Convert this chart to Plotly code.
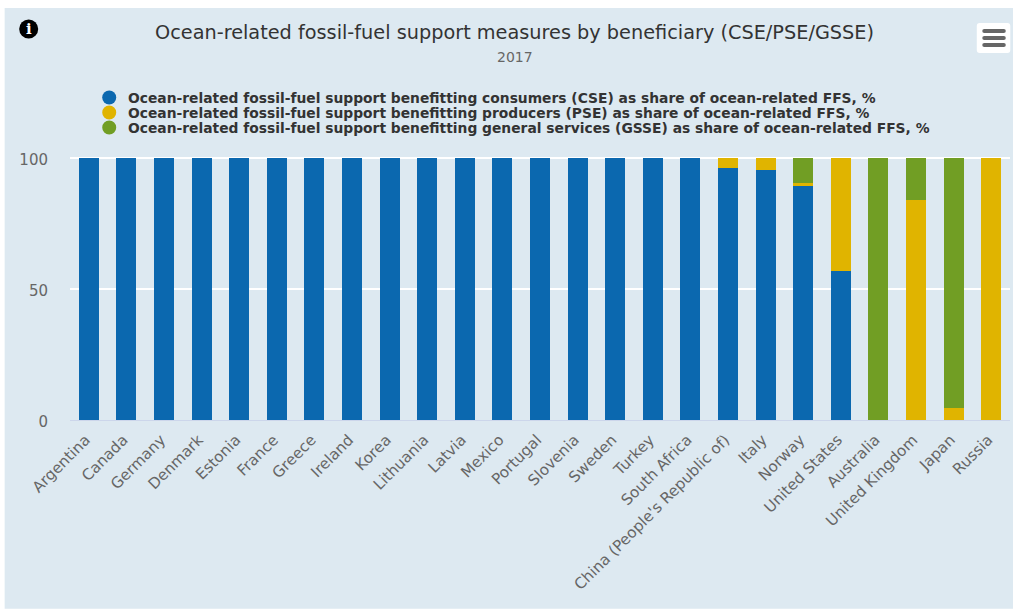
import plotly.graph_objects as go

countries = ["Argentina", "Canada", "Germany", "Denmark", "Estonia", "France", "Greece", "Ireland", "Korea",
             "Lithuania", "Latvia", "Mexico", "Portugal", "Slovenia", "Sweden", "Turkey", "South Africa",
             "China (People's Republic of)", "Italy", "Norway", "United States", "Australia", "United Kingdom",
             "Japan", "Russia"]
cse = [100] * 17 + [96.1, 95.3, 89.2, 56.8, 0, 0, 0, 0]
pse = [0] * 17 + [3.9, 4.7, 1.1, 43.2, 0, 83.9, 4.6, 100]
gsse = [0] * 17 + [0, 0, 9.7, 0, 100, 16.1, 95.4, 0]

series_names = [
    "Ocean-related fossil-fuel support benefitting consumers (CSE) as share of ocean-related FFS, %",
    "Ocean-related fossil-fuel support benefitting producers (PSE) as share of ocean-related FFS, %",
    "Ocean-related fossil-fuel support benefitting general services (GSSE) as share of ocean-related FFS, %",
]
series_colors = ["#0B68AF", "#E0B400", "#719E24"]
y_ticks = [0, 50, 100]
y_max = 100.6  # a little headroom so the 100 gridline is not dropped at the plot edge

WIDTH, HEIGHT = 1013, 609
LEFT, RIGHT, BOTTOM = 70.3, 1009.7, 420.2
PX_PER_UNIT = 2.626
TOP = BOTTOM - y_max * PX_PER_UNIT
FONT = "DejaVu Sans"
PANEL = "#DDE9F1"


def px(x):
    return (x - LEFT) / (RIGHT - LEFT)


def py(y):
    return (BOTTOM - y) / (BOTTOM - TOP)


def rounded_rect(x0, y0, x1, y1, r):
    """SVG path of a rounded rectangle, given in page pixels, in paper coordinates."""
    pts = lambda x, y: f"{px(x):.5f} {py(y):.5f}"
    return (f"M {pts(x0 + r, y0)} L {pts(x1 - r, y0)} Q {pts(x1, y0)} {pts(x1, y0 + r)} "
            f"L {pts(x1, y1 - r)} Q {pts(x1, y1)} {pts(x1 - r, y1)} L {pts(x0 + r, y1)} "
            f"Q {pts(x0, y1)} {pts(x0, y1 - r)} L {pts(x0, y0 + r)} Q {pts(x0, y0)} {pts(x0 + r, y0)} Z")


fig = go.Figure()
for name, values, color in zip(series_names, [cse, pse, gsse], series_colors):
    fig.add_trace(go.Bar(x=countries, y=values, name=name, marker=dict(color=color, line=dict(width=0))))

shapes = [
    # page panel behind the chart
    dict(type="rect", xref="paper", yref="paper", x0=px(5), x1=px(1013), y0=py(8), y1=py(609),
         fillcolor=PANEL, line=dict(width=0), layer="below"),
    # info badge
    dict(type="circle", xref="paper", yref="paper", x0=px(19.5), x1=px(38.5), y0=py(19.5), y1=py(38.5),
         fillcolor="#000000", line=dict(width=0)),
    # menu button
    dict(type="path", xref="paper", yref="paper", path=rounded_rect(976.5, 23, 1010, 53, 3),
         fillcolor="#FFFFFF", line=dict(width=0)),
]
for y in (31, 38, 45):
    shapes.append(dict(type="path", xref="paper", yref="paper",
                       path=rounded_rect(982, y - 2, 1005.5, y + 2, 2),
                       fillcolor="#666666", line=dict(width=0)))

annotations = [
    dict(text="Ocean-related fossil-fuel support measures by beneficiary (CSE/PSE/GSSE)", x=px(514.5), y=py(32),
         xref="paper", yref="paper", showarrow=False, xanchor="center", yanchor="middle",
         font=dict(family=FONT, size=19.3, color="#333333")),
    dict(text="2017", x=px(515), y=py(56.5), xref="paper", yref="paper", showarrow=False,
         xanchor="center", yanchor="middle", font=dict(family=FONT, size=14, color="#666666")),
    dict(text="<b>i</b>", x=px(29), y=py(29), xref="paper", yref="paper", showarrow=False,
         xanchor="center", yanchor="middle", font=dict(family="DejaVu Serif", size=15, color="#FFFFFF")),
]

# legend drawn by hand so the rows can sit tighter than the built-in legend allows
for i, (name, color) in enumerate(zip(series_names, series_colors)):
    cy = 97.5 + 15 * i
    shapes.append(dict(type="circle", xref="paper", yref="paper", x0=px(102.5), x1=px(116.5),
                       y0=py(cy - 7), y1=py(cy + 7), fillcolor=color, line=dict(width=0)))
    annotations.append(dict(text=f"<b>{name}</b>", x=px(126), y=py(cy + 0.6), xref="paper", yref="paper",
                            showarrow=False, xanchor="left", yanchor="middle",
                            font=dict(family=FONT, size=13.83, color="#333333")))

fig.update_layout(
    width=WIDTH, height=HEIGHT,
    margin=dict(l=LEFT, r=WIDTH - RIGHT, t=TOP, b=HEIGHT - BOTTOM, pad=0, autoexpand=False),
    barmode="stack", bargap=0.468,
    paper_bgcolor="#FFFFFF", plot_bgcolor=PANEL,
    showlegend=False,
    shapes=shapes, annotations=annotations,
    xaxis=dict(categoryorder="array", categoryarray=countries, tickangle=-45, ticks="", showgrid=False,
               tickfont=dict(family=FONT, size=15.2, color="#666666"), showline=True, linecolor="#CCD6EB", linewidth=1,
               automargin=False, ticklabelstandoff=4, ticklabelshift=-3),
    yaxis=dict(range=[0, y_max], tickvals=y_ticks, ticks="", gridcolor="#FFFFFF", gridwidth=1.5, zeroline=False,
               tickfont=dict(family=FONT, size=15, color="#666666"), ticklabelstandoff=21, ticklabelshift=2,
               automargin=False),
)

fig.write_html("out.html", config={"displayModeBar": False})
